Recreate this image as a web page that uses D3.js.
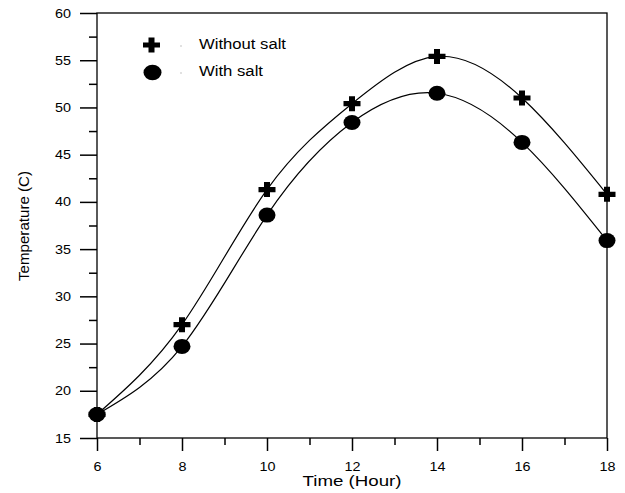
<!DOCTYPE html>
<html><head><meta charset="utf-8">
<script src="https://cdn.jsdelivr.net/npm/d3@7"></script>
<style>
html,body{margin:0;padding:0;background:#fff;}
svg{display:block;}
text{font-family:"Liberation Sans",Arial,sans-serif;fill:#000;}
</style></head>
<body>
<svg id="chart" width="625" height="493"></svg>
<script>
const hours = [6, 8, 10, 12, 14, 16, 18];
const withoutSalt = [17.5, 27.0, 41.3, 50.4, 55.4, 51.0, 40.8];
const withSalt = [17.5, 24.7, 38.6, 48.4, 51.5, 46.3, 35.9];
const xMajorTicks = [6, 8, 10, 12, 14, 16, 18];
const xMinorTicks = [7, 9, 11, 13, 15, 17];
const yMajorTicks = [15, 20, 25, 30, 35, 40, 45, 50, 55, 60];
const yMinorTicks = [17.5, 22.5, 27.5, 32.5, 37.5, 42.5, 47.5, 52.5, 57.5];
const seriesNames = ["Without salt", "With salt"];
const xTitle = "Time (Hour)";
const yTitle = "Temperature (C)";

const L = 97, R = 607, T = 13, B = 438;
const svg = d3.select("#chart");
const x = d3.scaleLinear().domain([6, 18]).range([L, R]);
const y = d3.scaleLinear().domain([15, 60]).range([B, T]);

// frame
svg.append("rect").attr("x", L).attr("y", T).attr("width", R - L).attr("height", B - T)
  .attr("fill", "none").attr("stroke", "#000").attr("stroke-width", 1.3);

function styleAxis(g) {
  g.select(".domain").remove();
  g.selectAll("line").attr("stroke", "#000").attr("stroke-width", 1.5);
  g.selectAll("text").attr("font-size", 12.5).attr("fill", "#000")
    .style("font-family", '"Liberation Sans",Arial,sans-serif')
    .attr("textLength", function () { return this.textContent.length * 8; })
    .attr("lengthAdjust", "spacingAndGlyphs");
}

svg.append("g").attr("transform", `translate(${L},0)`)
  .call(d3.axisLeft(y).tickValues(yMajorTicks).tickSize(17).tickPadding(9).tickSizeOuter(0))
  .call(styleAxis);
svg.append("g").attr("transform", `translate(${L},0)`)
  .call(d3.axisLeft(y).tickValues(yMinorTicks).tickSize(8).tickFormat("").tickSizeOuter(0))
  .call(styleAxis);
svg.append("g").attr("transform", `translate(0,${B})`)
  .call(d3.axisBottom(x).tickValues(xMajorTicks).tickSize(13).tickPadding(11.5).tickSizeOuter(0))
  .call(styleAxis);
svg.append("g").attr("transform", `translate(0,${B})`)
  .call(d3.axisBottom(x).tickValues(xMinorTicks).tickSize(7).tickFormat("").tickSizeOuter(0))
  .call(styleAxis);

// titles
svg.append("text").attr("x", (L + R) / 2).attr("y", 486).attr("text-anchor", "middle")
  .attr("font-size", 14).attr("textLength", 99).attr("lengthAdjust", "spacingAndGlyphs").text(xTitle);
svg.append("text").attr("transform", "translate(29,226) rotate(-90)").attr("text-anchor", "middle")
  .attr("font-size", 14.5).attr("textLength", 110).attr("lengthAdjust", "spacingAndGlyphs").text(yTitle);

// curves
const line = d3.line().x(d => x(d[0])).y(d => y(d[1])).curve(d3.curveNatural);
const series = [withoutSalt, withSalt];
series.forEach(vals => {
  svg.append("path").datum(hours.map((h, i) => [h, vals[i]]))
    .attr("d", line).attr("fill", "none").attr("stroke", "#000").attr("stroke-width", 1.2);
});

function crossPath(cx, cy) {
  const hw = 8.5, hh = 7.5, aw = 3, ah = 2.6;
  return `M${cx - aw},${cy - hh}H${cx + aw}V${cy - ah}H${cx + hw}V${cy + ah}H${cx + aw}V${cy + hh}H${cx - aw}V${cy + ah}H${cx - hw}V${cy - ah}H${cx - aw}Z`;
}

// markers
svg.append("g").selectAll("path").data(hours.map((h, i) => [h, withoutSalt[i]])).join("path")
  .attr("d", d => crossPath(x(d[0]), y(d[1]))).attr("fill", "#000");
svg.append("g").selectAll("ellipse").data(hours.map((h, i) => [h, withSalt[i]])).join("ellipse")
  .attr("cx", d => x(d[0])).attr("cy", d => y(d[1])).attr("rx", 8.5).attr("ry", 7.5).attr("fill", "#000");

// legend
const leg = svg.append("g");
leg.append("path").attr("d", crossPath(151.5, 45)).attr("fill", "#000");
leg.append("ellipse").attr("cx", 152.5).attr("cy", 72.5).attr("rx", 9).attr("ry", 7.8).attr("fill", "#000");
[46, 73].forEach(cy => leg.append("rect").attr("x", 180.5).attr("y", cy - 0.5).attr("width", 1).attr("height", 1).attr("fill", "#888"));
leg.append("text").attr("x", 199).attr("y", 48.5).attr("font-size", 14)
  .attr("textLength", 87).attr("lengthAdjust", "spacingAndGlyphs").text(seriesNames[0]);
leg.append("text").attr("x", 199).attr("y", 75.5).attr("font-size", 14)
  .attr("textLength", 64).attr("lengthAdjust", "spacingAndGlyphs").text(seriesNames[1]);
</script>
</body></html>
